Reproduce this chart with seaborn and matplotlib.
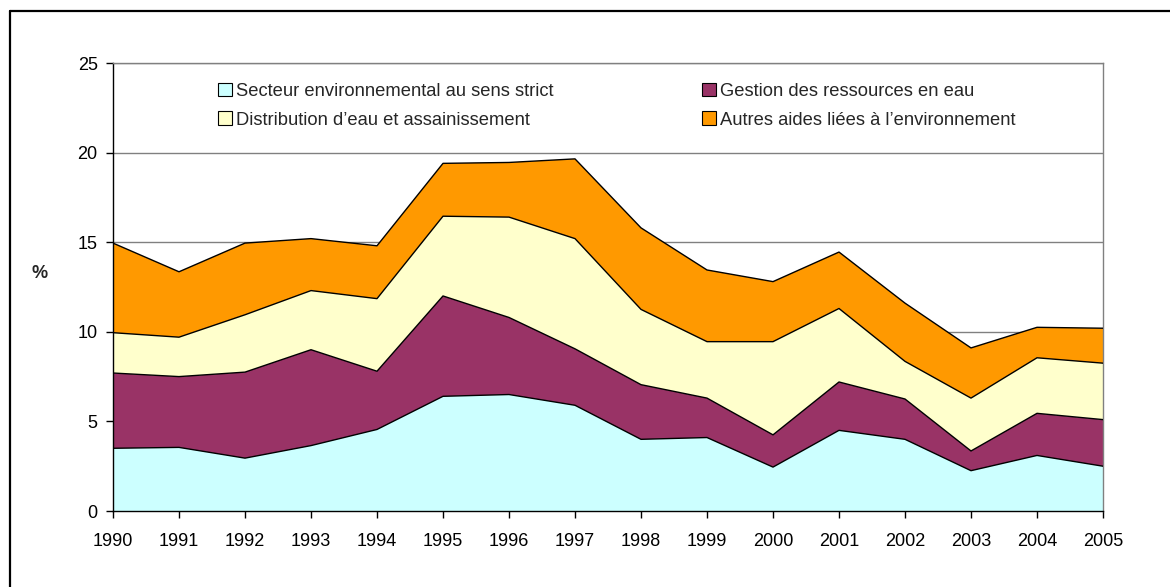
import numpy as np
import pandas as pd
import matplotlib
matplotlib.use("Agg")
import matplotlib.pyplot as plt
import seaborn as sns
from matplotlib.lines import Line2D
from matplotlib.patches import Patch

# ==================== DATA ====================
years = list(range(1990, 2006))

strict = [3.5, 3.55, 2.95, 3.65, 4.55, 6.4, 6.5, 5.9, 4.0, 4.1, 2.45, 4.5, 4.0, 2.25, 3.1, 2.5]
gestion = [4.2, 3.95, 4.8, 5.35, 3.25, 5.6, 4.3, 3.15, 3.05, 2.2, 1.8, 2.7, 2.25, 1.1, 2.35, 2.6]
distribution = [2.25, 2.2, 3.2, 3.3, 4.05, 4.45, 5.6, 6.15, 4.2, 3.15, 5.2, 4.1, 2.1, 2.95, 3.1, 3.15]
autres = [5.0, 3.65, 4.0, 2.9, 2.95, 2.95, 3.05, 4.45, 4.55, 4.0, 3.35, 3.15, 3.25, 2.8, 1.7, 1.95]

labels = [
    "Secteur environnemental au sens strict",
    "Gestion des ressources en eau",
    "Distribution d\u2019eau et assainissement",
    "Autres aides li\u00e9es \u00e0 l\u2019environnement",
]
colors = ["#CCFFFF", "#993366", "#FFFFCC", "#FF9900"]

# ==================== PLOT ====================
sns.set_style("white")
plt.rcParams["font.family"] = ["Liberation Sans", "DejaVu Sans"]

fig = plt.figure(figsize=(11.7, 5.87), dpi=100)
ax = fig.add_axes([113 / 1170, 1 - 511 / 587, (1103 - 113) / 1170, (511 - 63) / 587])

series = [strict, gestion, distribution, autres]
ax.stackplot(years, *series, colors=colors, edgecolor="none", zorder=2)

# boundary lines between layers
df = pd.DataFrame({"year": years})
cum = np.zeros(len(years))
for s in series:
    cum = cum + np.array(s)
    df["top"] = cum
    sns.lineplot(data=df, x="year", y="top", color="black", linewidth=1.0, ax=ax, zorder=3)

ax.set_xlim(1990, 2005)
ax.set_ylim(0, 25)
ax.set_xticks(years)
ax.set_yticks([0, 5, 10, 15, 20, 25])
ax.set_xlabel("")
ax.set_ylabel("")
ax.yaxis.grid(True, color="#808080", linewidth=1.0, zorder=0)
ax.set_axisbelow(True)

ax.tick_params(axis="both", which="both", direction="out", length=5, width=1,
               color="black", labelsize=13, labelcolor="black",
               bottom=True, left=True)
ax.tick_params(axis="x", pad=11)
ax.tick_params(axis="y", pad=6)

for side in ["left", "bottom"]:
    ax.spines[side].set_color("black")
    ax.spines[side].set_linewidth(1.0)
for side in ["top", "right"]:
    ax.spines[side].set_color("#808080")
    ax.spines[side].set_linewidth(1.0)
    ax.spines[side].set_visible(True)

order = [0, 2, 1, 3]
handles = [Patch(facecolor=colors[i], edgecolor="black", linewidth=0.8) for i in order]
ax.legend(handles, [labels[i] for i in order], ncol=2, frameon=False,
          loc="upper left", bbox_to_anchor=(0.106, 0.956),
          fontsize=13.2, handlelength=0.78, handleheight=0.78, handletextpad=0.2,
          columnspacing=8.1, labelspacing=0.62, borderaxespad=0, borderpad=0)

fig.text(40 / 1170, 1 - 273 / 587, "%", fontsize=13, fontweight="bold",
         ha="center", va="center")

# outer border (left and top only)
xl = 10 / 1170
yt = 1 - 11 / 587
fig.add_artist(Line2D([xl, xl], [0, yt], transform=fig.transFigure, color="black", linewidth=1.6))
fig.add_artist(Line2D([xl, 1], [yt, yt], transform=fig.transFigure, color="black", linewidth=1.6))

fig.savefig("out.png", dpi=100)
